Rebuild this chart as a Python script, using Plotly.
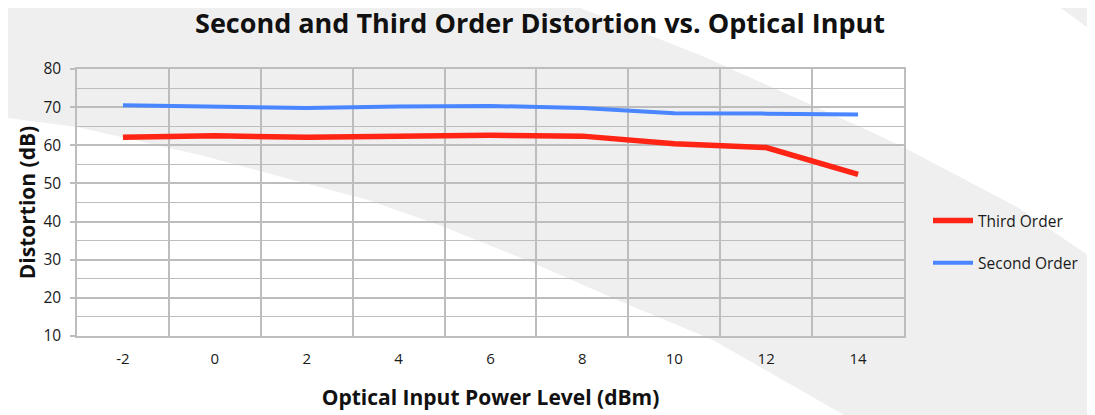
import plotly.graph_objects as go

# ---- data ----
power_levels = ["-2", "0", "2", "4", "6", "8", "10", "12", "14"]
third_order = [62.1, 62.5, 62.1, 62.5, 62.6, 62.4, 60.4, 59.4, 52.4]
second_order = [70.5, 70.2, 69.8, 70.2, 70.3, 69.8, 68.4, 68.3, 68.1]

W, H = 1095, 415
OFF = 8  # page body margin offset of the rendered figure
# plot area in reference-screen pixels
SL, SR, ST, SB = 77, 904, 69, 336
L, R, T, B = SL - OFF, SR - OFF, ST - OFF, SB - OFF  # figure pixels

FONT = "Open Sans"
TXT = "#1a1a1a"
GRID = "#bdbdbd"
BAND = "#efefef"


def px2paper(pts):
    # screen pixel -> paper coords
    return [((x - OFF - L) / (R - L), (B - (y - OFF)) / (B - T)) for x, y in pts]


def path(pts):
    p = px2paper(pts)
    return "M " + " L ".join(f"{x:.4f},{y:.4f}" for x, y in p) + " Z"


bg_shapes = [
    dict(type="path", xref="paper", yref="paper",
         path=path([(0, 0), (1200, 0), (1200, 500), (0, 500)]),
         fillcolor=BAND, line_width=0, layer="below"),
    dict(type="path", xref="paper", yref="paper",
         path=path([(0, 117), (77, 127), (200, 155), (368, 200), (439, 225),
                    (526, 260), (629, 305), (713, 340), (870, 430), (0, 430)]),
         fillcolor="white", line_width=0, layer="below"),
    dict(type="path", xref="paper", yref="paper",
         path=path([(560, 0), (1050, 0), (1110, 44), (1110, 270), (1017, 207),
                    (903, 147), (867, 130), (700, 55)]),
         fillcolor="white", line_width=0, layer="below"),
]

fig = go.Figure()
fig.add_trace(go.Scatter(x=power_levels, y=third_order, mode="lines",
                         name="Third Order", legendgroup="a",
                         line=dict(color="#ff2414", width=5.5)))
fig.add_trace(go.Scatter(x=power_levels, y=second_order, mode="lines",
                         name="Second Order", legendgroup="b",
                         line=dict(color="#4a86ff", width=4)))

fig.update_layout(
    width=W, height=H,
    margin=dict(l=L, r=W - R, t=T, b=H - B, pad=0, autoexpand=False),
    paper_bgcolor="white", plot_bgcolor="rgba(0,0,0,0)",
    font=dict(family=FONT, color=TXT, size=15),
    title=dict(text="<b>Second and Third Order Distortion vs. Optical Input</b>",
               x=(540 - OFF) / W, xanchor="center", xref="container",
               y=1 - (24 - OFF) / H, yanchor="middle", yref="container",
               font=dict(family=FONT, size=27, color="#111")),
    shapes=bg_shapes,
    showlegend=True,
    legend=dict(x=(928 - SL) / (SR - SL), xanchor="left",
                y=(SB - 242) / (SB - ST), yanchor="middle",
                bgcolor="rgba(0,0,0,0)", traceorder="grouped", itemwidth=40,
                tracegroupgap=19, font=dict(size=15.5, color=TXT, family=FONT)),
)

fig.update_xaxes(
    type="category", tickson="boundaries", range=[-0.5, 8.5],
    showgrid=True, gridcolor=GRID, gridwidth=1.5,
    showline=True, linecolor=GRID, linewidth=1.5, mirror=True,
    ticks="", ticklabelstandoff=8,
    tickfont=dict(size=15, color=TXT),
    title=dict(text="<b>Optical Input Power Level (dBm)</b>",
               font=dict(size=21, color="#111"), standoff=24),
    zeroline=False, automargin=False,
)
fig.update_yaxes(
    range=[10, 80], dtick=10, tick0=10,
    showgrid=True, gridcolor=GRID, gridwidth=1.5,
    minor=dict(dtick=5, showgrid=True, gridcolor=GRID, gridwidth=1.2),
    showline=True, linecolor=GRID, linewidth=1.5, mirror=True,
    ticks="outside", ticklen=5, tickcolor=GRID, tickwidth=1.5,
    ticklabelstandoff=6,
    tickfont=dict(size=15.5, color=TXT),
    title=dict(text="<b>Distortion (dB)</b>",
               font=dict(size=21, color="#111"), standoff=2),
    zeroline=False, automargin=False,
)

fig.write_html("out.html")
